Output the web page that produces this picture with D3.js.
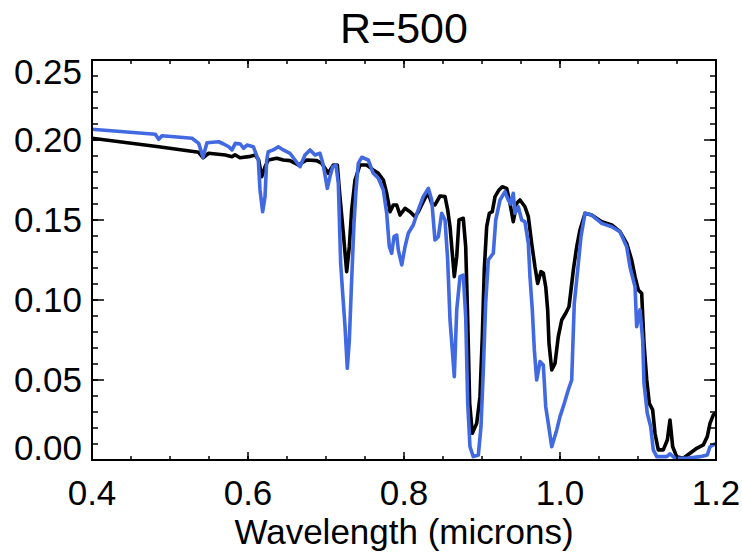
<!DOCTYPE html>
<html>
<head>
<meta charset="utf-8">
<script src="https://cdn.jsdelivr.net/npm/d3@7"></script>
<style>
    body { margin: 0; background: #fff; }
    text { font-family: "Liberation Sans", Arial, Helvetica, sans-serif; fill: #000; }
</style>
</head>
<body>
<svg id="spectrumSvg"></svg>
<script>
// spectrum plot, two model spectra at R=500

let chartTitle = "R=500";
let xTitle = "Wavelength (microns)";

let xTickValues = [0.4, 0.6, 0.8, 1.0, 1.2];
let xTickLabels = ["0.4", "0.6", "0.8", "1.0", "1.2"];
let yTickValues = [0.00, 0.05, 0.10, 0.15, 0.20, 0.25];
let yTickLabels = ["0.00", "0.05", "0.10", "0.15", "0.20", "0.25"];

// black spectrum
let blackWave = [0.4000, 0.4855, 0.5368, 0.5423, 0.5496, 0.5709, 0.5795, 0.5833, 0.5897, 0.6009,
    0.6094, 0.6137, 0.6176, 0.6218, 0.6260, 0.6368, 0.6453, 0.6538, 0.6645, 0.6753,
    0.6881, 0.6945, 0.7029, 0.7094, 0.7145, 0.7179, 0.7222, 0.7265, 0.7299, 0.7329,
    0.7372, 0.7436, 0.7522, 0.7606, 0.7671, 0.7735, 0.7778, 0.7821, 0.7863, 0.7906,
    0.7949, 0.8013, 0.8077, 0.8141, 0.8183, 0.8269, 0.8312, 0.8355, 0.8397, 0.8462,
    0.8526, 0.8560, 0.8590, 0.8619, 0.8645, 0.8676, 0.8705, 0.8760, 0.8791, 0.8817,
    0.8842, 0.8876, 0.8932, 0.8974, 0.9004, 0.9029, 0.9060, 0.9094, 0.9132, 0.9167,
    0.9218, 0.9260, 0.9317, 0.9359, 0.9401, 0.9445, 0.9487, 0.9551, 0.9594, 0.9637,
    0.9679, 0.9714, 0.9756, 0.9786, 0.9817, 0.9842, 0.9859, 0.9894, 0.9936, 0.9978,
    1.0022, 1.0073, 1.0115, 1.0141, 1.0171, 1.0214, 1.0256, 1.0321, 1.0406, 1.0535,
    1.0663, 1.0769, 1.0855, 1.0919, 1.0962, 1.1004, 1.1047, 1.1077, 1.1112, 1.1145,
    1.1188, 1.1218, 1.1260, 1.1324, 1.1376, 1.1410, 1.1445, 1.1496, 1.1581, 1.1667,
    1.1753, 1.1837, 1.1888, 1.1923, 1.1965, 1.2000];
let blackFlux = [0.2011, 0.1958, 0.1923, 0.1889, 0.1917, 0.1906, 0.1896, 0.1908, 0.1889, 0.1896,
    0.1906, 0.1875, 0.1771, 0.1833, 0.1875, 0.1886, 0.1875, 0.1871, 0.1844, 0.1875,
    0.1871, 0.1854, 0.1792, 0.1844, 0.1844, 0.1646, 0.1417, 0.1177, 0.1333, 0.1563,
    0.1750, 0.1844, 0.1844, 0.1813, 0.1792, 0.1750, 0.1667, 0.1552, 0.1594, 0.1594,
    0.1531, 0.1573, 0.1552, 0.1521, 0.1550, 0.1636, 0.1667, 0.1604, 0.1594, 0.1650,
    0.1646, 0.1563, 0.1458, 0.1292, 0.1146, 0.1271, 0.1500, 0.1511, 0.1333, 0.0875,
    0.0354, 0.0167, 0.0229, 0.0396, 0.0771, 0.1188, 0.1458, 0.1542, 0.1552, 0.1646,
    0.1688, 0.1708, 0.1698, 0.1604, 0.1489, 0.1604, 0.1625, 0.1583, 0.1521, 0.1354,
    0.1208, 0.1104, 0.1177, 0.1169, 0.1083, 0.0938, 0.0729, 0.0563, 0.0604, 0.0771,
    0.0875, 0.0917, 0.0958, 0.1063, 0.1188, 0.1333, 0.1438, 0.1542, 0.1531, 0.1489,
    0.1469, 0.1427, 0.1354, 0.1250, 0.1146, 0.1063, 0.1042, 0.0729, 0.0500, 0.0354,
    0.0313, 0.0167, 0.0063, 0.0063, 0.0125, 0.0250, 0.0083, 0.0021, 0.0011, 0.0042,
    0.0073, 0.0094, 0.0146, 0.0229, 0.0281, 0.0294];

// blue spectrum
let blueWave = [0.4000, 0.4812, 0.4855, 0.4897, 0.5282, 0.5368, 0.5423, 0.5474, 0.5624, 0.5688,
    0.5753, 0.5795, 0.5837, 0.5901, 0.5945, 0.5987, 0.6068, 0.6132, 0.6154, 0.6188,
    0.6218, 0.6240, 0.6260, 0.6324, 0.6388, 0.6453, 0.6538, 0.6603, 0.6667, 0.6731,
    0.6795, 0.6859, 0.6923, 0.6965, 0.7017, 0.7051, 0.7086, 0.7128, 0.7158, 0.7188,
    0.7214, 0.7244, 0.7273, 0.7299, 0.7329, 0.7359, 0.7385, 0.7414, 0.7458, 0.7542,
    0.7606, 0.7671, 0.7735, 0.7778, 0.7812, 0.7842, 0.7872, 0.7906, 0.7927, 0.7971,
    0.8013, 0.8055, 0.8119, 0.8183, 0.8247, 0.8312, 0.8355, 0.8397, 0.8440, 0.8483,
    0.8526, 0.8560, 0.8590, 0.8619, 0.8645, 0.8676, 0.8718, 0.8760, 0.8791, 0.8817,
    0.8846, 0.8888, 0.8953, 0.8987, 0.9017, 0.9047, 0.9081, 0.9145, 0.9176, 0.9231,
    0.9295, 0.9337, 0.9365, 0.9401, 0.9423, 0.9465, 0.9509, 0.9551, 0.9594, 0.9615,
    0.9645, 0.9671, 0.9701, 0.9744, 0.9786, 0.9817, 0.9850, 0.9894, 0.9958, 1.0000,
    1.0055, 1.0106, 1.0150, 1.0183, 1.0227, 1.0269, 1.0321, 1.0406, 1.0535, 1.0663,
    1.0769, 1.0855, 1.0897, 1.0962, 1.0983, 1.1026, 1.1060, 1.1077, 1.1119, 1.1163,
    1.1196, 1.1240, 1.1368, 1.1410, 1.1474, 1.1624, 1.1795, 1.1888, 1.1923, 1.2000];
let blueFlux = [0.2067, 0.2036, 0.2004, 0.2027, 0.2011, 0.1979, 0.1892, 0.1983, 0.1989, 0.1975,
    0.1958, 0.1938, 0.1979, 0.1975, 0.1948, 0.1969, 0.1958, 0.1875, 0.1688, 0.1552,
    0.1646, 0.1875, 0.1927, 0.1938, 0.1958, 0.1938, 0.1917, 0.1875, 0.1833, 0.1906,
    0.1938, 0.1906, 0.1917, 0.1844, 0.1698, 0.1771, 0.1833, 0.1844, 0.1729, 0.1229,
    0.1042, 0.0833, 0.0573, 0.0750, 0.1125, 0.1479, 0.1688, 0.1854, 0.1892, 0.1875,
    0.1792, 0.1761, 0.1688, 0.1542, 0.1333, 0.1292, 0.1396, 0.1406, 0.1313, 0.1219,
    0.1333, 0.1417, 0.1469, 0.1563, 0.1646, 0.1698, 0.1625, 0.1375, 0.1396, 0.1542,
    0.1500, 0.1250, 0.0875, 0.0688, 0.0521, 0.0938, 0.1146, 0.1156, 0.0896, 0.0354,
    0.0083, 0.0021, 0.0031, 0.0208, 0.0563, 0.0979, 0.1250, 0.1292, 0.1500, 0.1625,
    0.1677, 0.1625, 0.1600, 0.1667, 0.1542, 0.1583, 0.1500, 0.1488, 0.1354, 0.1146,
    0.0938, 0.0688, 0.0500, 0.0615, 0.0594, 0.0333, 0.0229, 0.0083, 0.0188, 0.0271,
    0.0354, 0.0438, 0.0500, 0.0979, 0.1188, 0.1396, 0.1542, 0.1531, 0.1479, 0.1458,
    0.1427, 0.1333, 0.1208, 0.1083, 0.0833, 0.0938, 0.0750, 0.0479, 0.0292, 0.0208,
    0.0063, 0.0021, 0.0021, 0.0038, 0.0011, 0.0011, 0.0021, 0.0031, 0.0083, 0.0104];

let svgWidth = 742;
let svgHeight = 555;
let chartMargin = {top: 60, right: 26, bottom: 95, left: 92};
let chartWidth = svgWidth - chartMargin.left - chartMargin.right;
let chartHeight = svgHeight - chartMargin.top - chartMargin.bottom;

let xScale = d3.scaleLinear().domain([0.4, 1.2]).range([0, chartWidth]);
let yScale = d3.scaleLinear().domain([0.0, 0.25]).range([chartHeight, 0]);

function _each(arr, fn) {
    for (let i = 0; i < arr.length; i++) fn(arr[i], i);
}

function zipSeries(waves, fluxes) {
    let pts = [];
    _each(waves, function (w, i) {
        pts.push({w: w, f: fluxes[i]});
    });
    return pts;
}

function drawTicks(g, axis, values, len, side) {
    // IDL style inward ticks on all four sides
    _each(values, function (v) {
        if (axis === "x") {
            let x = xScale(v);
            let y0 = side === "bottom" ? chartHeight : 0;
            let y1 = side === "bottom" ? chartHeight - len : len;
            g.append("line").attr("x1", x).attr("x2", x).attr("y1", y0).attr("y2", y1);
        } else {
            let y = yScale(v);
            let x0 = side === "left" ? 0 : chartWidth;
            let x1 = side === "left" ? len : chartWidth - len;
            g.append("line").attr("x1", x0).attr("x2", x1).attr("y1", y).attr("y2", y);
        }
    });
}

function drawSpectrum() {
    let svg = d3.select("#spectrumSvg")
        .attr("width", svgWidth)
        .attr("height", svgHeight);

    let plot = svg.append("g")
        .attr("transform", "translate(" + chartMargin.left + "," + chartMargin.top + ")");

    plot.append("clipPath").attr("id", "plotClip")
        .append("rect")
        .attr("x", 0).attr("y", -2)
        .attr("width", chartWidth).attr("height", chartHeight + 2);

    let line = d3.line()
        .x(function (d) { return xScale(d.w); })
        .y(function (d) { return yScale(d.f); });

    let series = [
        {pts: zipSeries(blackWave, blackFlux), color: "#000000"},
        {pts: zipSeries(blueWave, blueFlux), color: "#4169e1"}
    ];

    plot.append("g")
        .attr("clip-path", "url(#plotClip)")
        .selectAll("path")
        .data(series)
        .enter()
        .append("path")
        .attr("d", function (d) { return line(d.pts); })
        .attr("fill", "none")
        .attr("stroke", function (d) { return d.color; })
        .attr("stroke-width", 3.6)
        .attr("stroke-linejoin", "round");

    // frame
    plot.append("rect")
        .attr("x", 0).attr("y", 0)
        .attr("width", chartWidth).attr("height", chartHeight)
        .attr("fill", "none")
        .attr("stroke", "#000")
        .attr("stroke-width", 2);

    let ticks = plot.append("g").attr("stroke", "#000").attr("stroke-width", 1.5);
    let xMinor = d3.range(0.4, 1.2001, 0.05);
    let yMinor = d3.range(0, 0.2501, 0.01);
    drawTicks(ticks, "x", xMinor, 4, "bottom");
    drawTicks(ticks, "x", xMinor, 4, "top");
    drawTicks(ticks, "x", xTickValues, 8, "bottom");
    drawTicks(ticks, "x", xTickValues, 8, "top");
    drawTicks(ticks, "y", yMinor, 6, "left");
    drawTicks(ticks, "y", yMinor, 6, "right");
    drawTicks(ticks, "y", yTickValues, 12, "left");
    drawTicks(ticks, "y", yTickValues, 12, "right");

    plot.append("g")
        .selectAll("text")
        .data(xTickValues)
        .enter()
        .append("text")
        .attr("x", function (d) { return xScale(d); })
        .attr("y", chartHeight + 45)
        .attr("text-anchor", "middle")
        .attr("font-size", "35px")
        .text(function (d, i) { return xTickLabels[i]; });

    // end labels are kept inside the frame, like the original
    plot.append("g")
        .selectAll("text")
        .data(yTickValues)
        .enter()
        .append("text")
        .attr("x", -10)
        .attr("y", function (d) {
            let y = Math.min(Math.max(yScale(d), 12), chartHeight - 12);
            return y + 12;
        })
        .attr("text-anchor", "end")
        .attr("font-size", "35px")
        .text(function (d, i) { return yTickLabels[i]; });

    svg.append("text")
        .attr("x", chartMargin.left + chartWidth / 2)
        .attr("y", 43)
        .attr("text-anchor", "middle")
        .attr("font-size", "43px")
        .text(chartTitle);

    svg.append("text")
        .attr("x", chartMargin.left + chartWidth / 2)
        .attr("y", 544)
        .attr("text-anchor", "middle")
        .attr("font-size", "35px")
        .text(xTitle);
}

drawSpectrum();
</script>
</body>
</html>
